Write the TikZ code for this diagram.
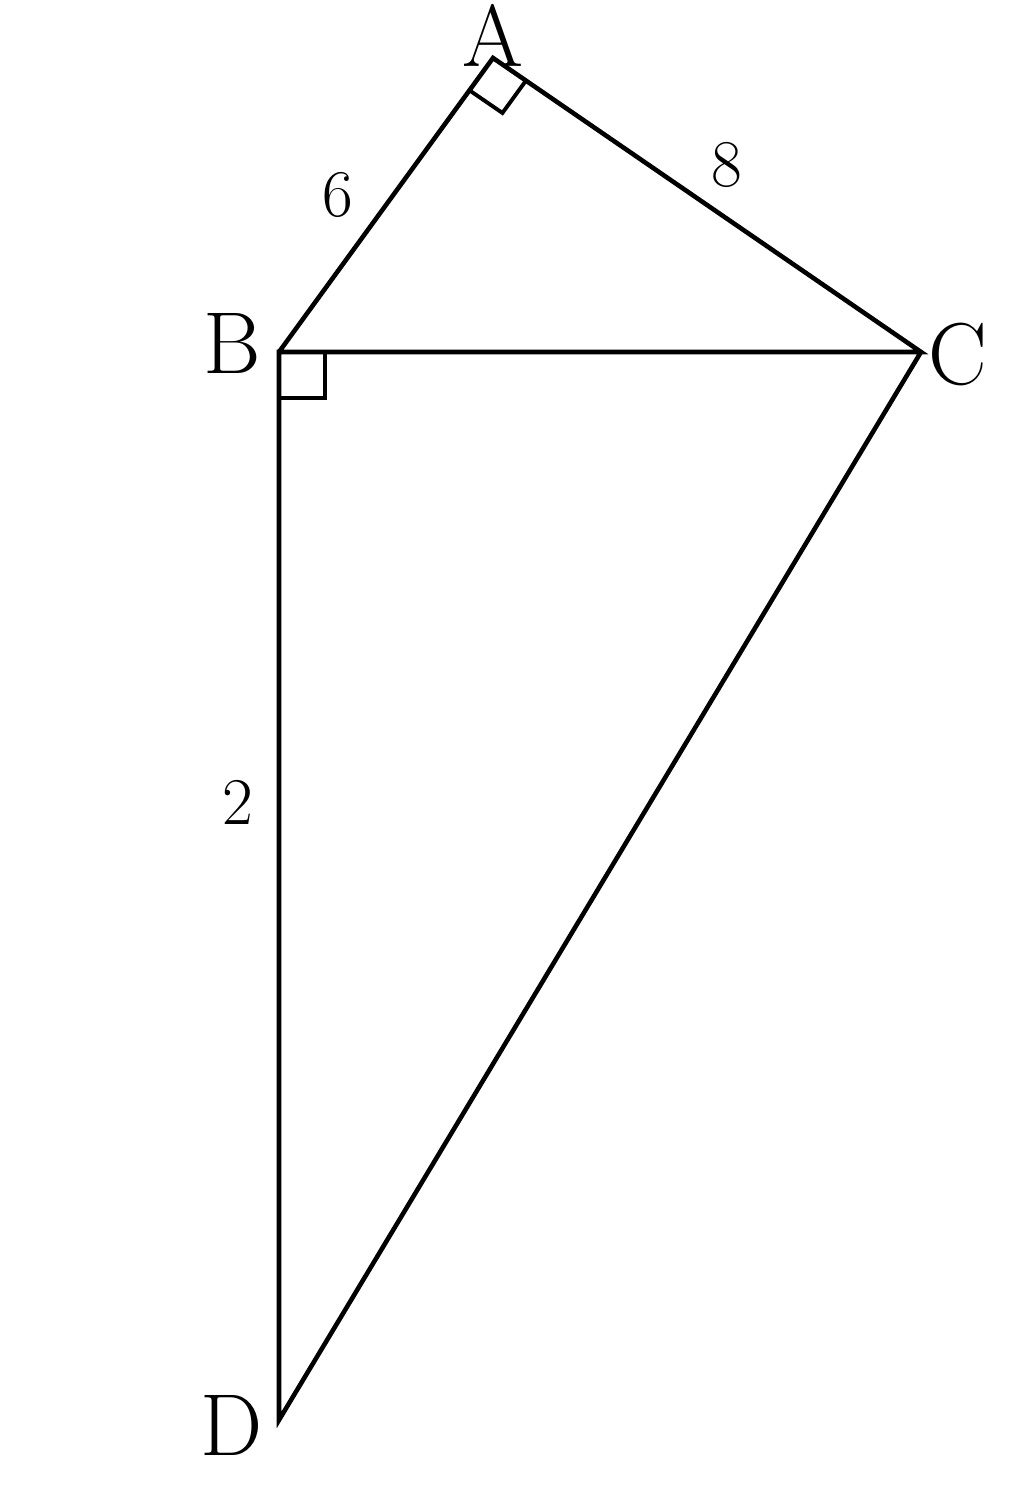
\documentclass[tikz,border=0pt]{standalone}
\usetikzlibrary{angles}
\begin{document}
\begin{tikzpicture}[line width=1.3pt,
    vlabel/.style={font=\fontsize{25}{30}\selectfont,inner sep=1pt},
    slabel/.style={font=\fontsize{19}{23}\selectfont}]
        \useasboundingbox (0,0) rectangle (10.24,15.07);
        \coordinate (A) at (4.93,14.49);
        \coordinate (B) at (2.79,11.55);
        \coordinate (C) at (9.21,11.55);
        \coordinate (D) at (2.79,0.87);
        \draw (B) -- (A) -- (C) -- (B) -- (D) -- (C);
        \pic[draw,line width=1.1pt,angle radius=0.4cm] {right angle=B--A--C};
        \pic[draw,line width=1.1pt,angle radius=0.46cm] {right angle=C--B--D};
        \node[vlabel] (lA) at (4.93,14.72) {A};
        \node[vlabel] (lB) at (2.32,11.63) {B};
        \node[vlabel] (lC) at (9.58,11.52) {C};
        \node[vlabel] (lD) at (2.32,0.82) {D};
        \node[slabel] (s6) at (3.38,13.12) {6};
        \node[slabel] (s8) at (7.27,13.42) {8};
        \node[slabel] (s2) at (2.38,7.05) {2};
\end{tikzpicture}
\end{document}
